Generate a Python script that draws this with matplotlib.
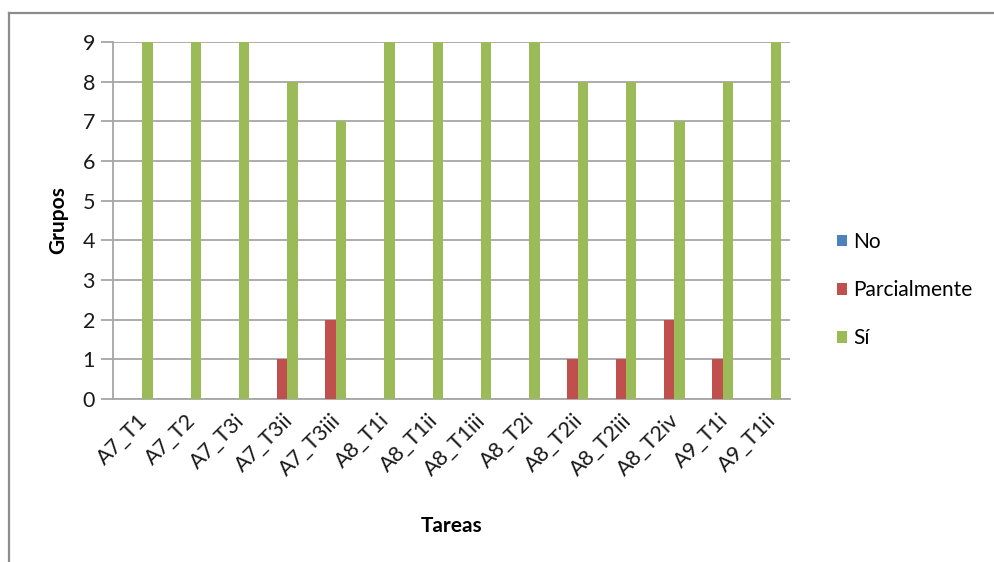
import matplotlib
matplotlib.use("Agg")
import matplotlib.pyplot as plt
from matplotlib.patches import Patch
from matplotlib.lines import Line2D
import numpy as np

plt.rcParams['font.family'] = ['Lato', 'DejaVu Sans']

tareas = ["A7_T1", "A7_T2", "A7_T3i", "A7_T3ii", "A7_T3iii", "A8_T1i", "A8_T1ii",
          "A8_T1iii", "A8_T2i", "A8_T2ii", "A8_T2iii", "A8_T2iv", "A9_T1i", "A9_T1ii"]
no_vals = [0, 0, 0, 0, 0, 0, 0, 0, 0, 0, 0, 0, 0, 0]
parcial_vals = [0, 0, 0, 1, 2, 0, 0, 0, 0, 1, 1, 2, 1, 0]
si_vals = [9, 9, 9, 8, 7, 9, 9, 9, 9, 8, 8, 7, 8, 9]
series_names = ["No", "Parcialmente", "Sí"]
colors = ["#4F81BD", "#C0504D", "#9BBB59"]

fig = plt.figure(figsize=(9.94, 5.62), dpi=100)
fig.patch.set_facecolor("white")

# chart area border (top and left edges)
fig.add_artist(Line2D([8.5 / 994, 8.5 / 994], [0, 1 - 13 / 562], color="#8c8c8c", lw=1.6))
fig.add_artist(Line2D([8.5 / 994, 1], [1 - 13 / 562, 1 - 13 / 562], color="#8c8c8c", lw=1.6))

ax = fig.add_axes([113 / 994, 1 - 399 / 562, (790 - 113) / 994, (399 - 42) / 562])

x = np.arange(len(tareas))
w = 0.215
for i, (vals, c, name) in enumerate(zip([no_vals, parcial_vals, si_vals], colors, series_names)):
    ax.bar(x + (i - 1) * w, vals, width=w, color=c, label=name, zorder=3)

ax.set_xlim(-0.5, len(tareas) - 0.5)
ax.set_ylim(0, 9)
ax.set_yticks(range(0, 10))
ax.yaxis.grid(True, color="#a6a6a6", lw=1.3, zorder=0)
ax.tick_params(axis="y", length=9, color="#a6a6a6", width=1.3, labelsize=15.5, pad=4,
               labelcolor="#1a1a1a")
ax.tick_params(axis="x", length=0, labelsize=15.5, pad=8, labelcolor="#1a1a1a")
ax.set_xticks(x)
ax.set_xticklabels(tareas, rotation=45, ha="right", rotation_mode="anchor")

for s in ["top", "right"]:
    ax.spines[s].set_visible(False)
ax.spines["left"].set_color("#a6a6a6")
ax.spines["left"].set_linewidth(1.3)
ax.spines["bottom"].set_color("#a6a6a6")
ax.spines["bottom"].set_linewidth(1.3)

ax.set_ylabel("Grupos", fontsize=15, fontweight="bold", labelpad=10)
ax.set_xlabel("Tareas", fontsize=15, fontweight="bold", labelpad=26)

handles = [Patch(facecolor=c, label=n) for c, n in zip(colors, series_names)]
fig.legend(handles=handles, loc="center left", bbox_to_anchor=(818 / 994, 1 - 290 / 562),
           frameon=False, fontsize=15, handlelength=0.5, handleheight=0.5,
           handletextpad=0.3, labelspacing=1.35)

fig.savefig("out.png", dpi=100, facecolor="white")
